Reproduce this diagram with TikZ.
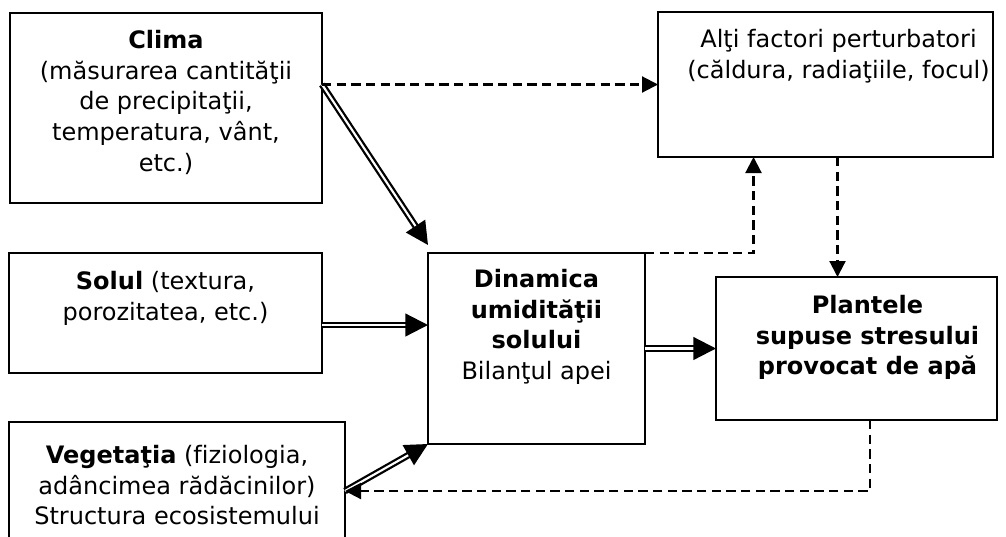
\documentclass[tikz,border=0pt]{standalone}
\usepackage{fontspec}
\setmainfont{DejaVu Sans}[Ligatures=NoCommon]
\usetikzlibrary{arrows.meta,calc}

\tikzset{
  box/.style={draw, line width=1.4pt, anchor=north west, inner sep=0pt, outer sep=0pt},
  lbl/.style={anchor=north, align=center, inner sep=0pt, font=\fontsize{18}{23}\selectfont},
  dbl/.style={double, double distance=1.6pt, line width=1.7pt, -{Triangle[length=17pt,width=17pt]}},
  dsh/.style={line width=1.6pt, dash pattern=on 7pt off 4pt, -{Triangle[length=12pt,width=12pt]}}
}

\begin{document}
\begin{tikzpicture}[x=0.75pt, y=-0.75pt]
      \useasboundingbox (0,0) rectangle (1006,536);
      \node[box, minimum width=234pt, minimum height=142.5pt, label={[lbl, yshift=-12.75pt]north:\textbf{Clima}\\(măsurarea cantităţii\\de precipitaţii,\\temperatura, vânt,\\etc.)}] (clima) at (10,13) {};
      \node[box, minimum width=251.25pt, minimum height=108.75pt, label={[lbl, xshift=9.75pt, yshift=-12.75pt]north:Alţi factori perturbatori\\(căldura, radiaţiile, focul)}] (alti) at (658,12) {};
      \node[box, minimum width=234.75pt, minimum height=90pt, label={[lbl, yshift=-13.5pt]north:\textbf{Solul} (textura,\\porozitatea, etc.)}] (solul) at (9,253) {};
      \node[box, minimum width=252pt, minimum height=103.5pt, label={[lbl, yshift=-17.25pt]north:\textbf{Vegetaţia} (fiziologia,\\adâncimea rădăcinilor)\\Structura ecosistemului}] (veget) at (9,422) {};
      \node[box, minimum width=162.75pt, minimum height=143.25pt, label={[lbl, yshift=-12pt]north:\textbf{Dinamica}\\\textbf{umidităţii}\\\textbf{solului}\\Bilanţul apei}] (dinam) at (428,253) {};
      \node[box, minimum width=210.75pt, minimum height=107.25pt, label={[lbl, xshift=8.25pt, yshift=-13.5pt]north:\textbf{Plantele}\\\textbf{supuse stresului}\\\textbf{provocat de apă}}] (plant) at (716,277) {};
%      connectors
      \coordinate (sol1) at ([yshift=-9pt]solul.east);
      \draw[dbl] (clima.east |- alti.west) -- ([yshift=6pt]dinam.north west);
      \draw[dsh] (clima.east |- alti.west) -- (alti.west);
      \draw[dbl] (sol1) -- (sol1 -| dinam.west);
      \draw[dbl] (dinam.east) -- (dinam.east -| plant.west);
      \draw[dbl] (veget.east) -- (dinam.south west);
      \draw[dsh] (dinam.north east) -| ([xshift=-54pt]alti.south);
      \draw[dsh] ([xshift=9pt]alti.south) -- ([xshift=9pt]alti.south |- plant.north);
      \draw[dsh] ([xshift=10pt]plant.south) |- (veget.east);
    \end{tikzpicture}
\end{document}
